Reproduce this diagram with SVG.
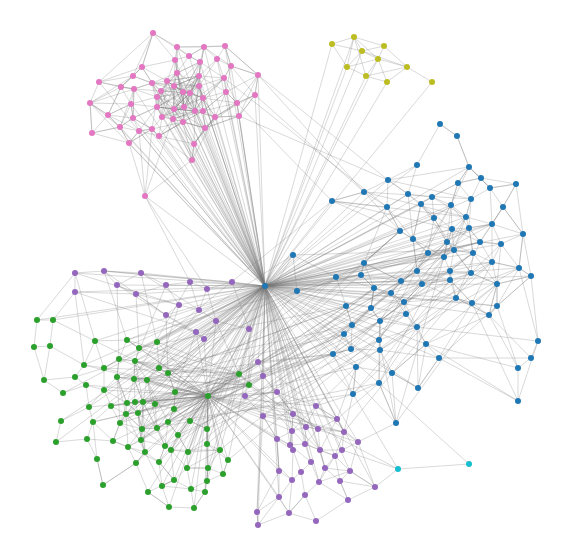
<svg xmlns="http://www.w3.org/2000/svg" width="572" height="558" viewBox="0 0 572 558">
<style>
.e path{fill:none;stroke:#7a7a7a;stroke-opacity:.48;stroke-width:.6}
.p circle{fill:#e377c2}.y circle{fill:#bcbd22}.b circle{fill:#1f77b4}.g circle{fill:#2ca02c}.u circle{fill:#9467bd}.c circle{fill:#17becf}
</style>
<rect width="572" height="558" fill="#fff"/>
<g id="connectors" class="e">
<path d="M153 33L175 60L167 81L183 92L184 107L199 76L204 47L217 59L224 78L226 92L203 111L183 122L174 109L174 86L177 73L177 47L189 56L200 62L199 86L190 93L195 111L203 98L237 103L239 116L205 128L194 144L173 119L162 117L157 107L157 97L161 91L152 83L142 67L133 76L121 87L131 104L133 118L152 129L159 136L183 122L195 111L215 117L237 103L255 95L258 75L231 66L225 46L217 59L199 86L183 92L174 86L167 81L152 83L134 89L90 103L99 82L121 87L134 89L157 97L174 109L173 119L183 122L194 144L192 160"/>
<path d="M177 47L177 73L183 92L203 98L224 78L231 66L226 92L215 117L205 128L203 111L190 93L174 109L157 107L162 117L152 129L139 131L129 143L120 127L108 115L90 103L92 133L120 127L133 118L139 131L159 136L173 119L184 107L199 86L199 76L200 62L189 56L175 60L177 73L161 91L157 97L131 104L108 115L121 87L133 76L152 83L174 86L190 93L184 107L203 98L226 92L237 103L203 111L195 111L174 109L162 117L159 136L194 144L215 117L239 116L255 95L237 103L224 78L199 76L167 81L142 67L153 33L177 47L204 47L225 46"/>
<path d="M153 33L142 67L152 83L161 91L157 107L174 109L190 93L199 76L217 59L231 66L258 75L255 95L239 116L215 117L203 111L184 107L183 92L167 81L177 73L200 62L204 47L189 56L177 73L174 86L174 109L183 122L159 136L152 129L133 118L131 104L134 89L161 91L162 117L173 119L195 111L205 128L183 122L184 107L174 86L199 76L199 86L203 98L215 117L194 144L195 111L190 93L161 91L157 97L152 129L129 143L139 131L157 107L183 92L200 62L224 78L203 98L203 111L226 92L258 75"/>
<path d="M174 86L183 92L190 93L174 109L184 107L183 92L167 81L161 91L190 93L203 98L199 86L195 111L183 92L157 107L167 81L199 76L184 107L162 117L174 86L199 86L190 93L173 119L183 92L157 97L184 107L203 111L199 86L161 91L174 109L195 111L162 117L190 93L200 62L174 86L157 97L152 83L183 92L177 73L184 107L224 78L195 111L199 76L174 109L203 98L174 86L175 60L184 107L183 122L167 81L162 117L199 76L161 91L195 111L173 119L152 83L157 107L199 86"/>
<path d="M99 82L142 67L121 87L90 103L108 115L92 133L90 103L133 76L99 82L134 89L120 127L129 143L145 196L139 131L108 115L131 104L120 127L92 133L129 143L152 129L145 196L192 160L194 144L205 128L239 116L258 75L225 46L231 66L255 95L215 117L192 160L159 136L183 122L192 160L173 119L145 196"/>
<path d="M153 33L189 56L204 47L231 66L224 78L199 86L152 83L133 76L142 67L175 60L177 47L225 46L258 75L237 103L226 92L199 76L174 86L157 107L133 118L134 89L121 87L108 115L133 118L120 127L139 131L152 129L183 122L205 128L237 103L215 117L195 111L157 107L131 104L90 103L120 127M153 33L99 82M153 33L133 76"/>
<path d="M204 47L199 76L190 93L183 122L203 111L205 128L174 109L183 92L200 62L177 73L152 83L134 89L133 118L157 107L195 111L203 98L190 93L157 97L162 117L184 107L177 73L161 91L173 119L205 128L215 117L203 98L199 76L183 92L195 111L199 86L167 81L174 86L173 119L203 111L199 86L177 73"/>
<path d="M265 286L177 47M265 286L204 47M265 286L225 46M265 286L189 56M265 286L175 60M265 286L200 62M265 286L217 59M265 286L231 66M265 286L258 75M265 286L177 73M265 286L199 76M265 286L224 78M265 286L152 83M265 286L167 81M265 286L199 86M265 286L134 89M265 286L174 86M265 286L161 91M265 286L183 92M265 286L190 93M265 286L226 92M265 286L255 95M265 286L157 97M265 286L203 98M265 286L131 104M265 286L237 103M265 286L157 107M265 286L174 109M265 286L184 107M265 286L195 111M265 286L203 111M265 286L239 116M265 286L133 118M265 286L162 117M265 286L173 119M265 286L183 122M265 286L215 117M265 286L120 127M265 286L152 129M265 286L139 131M265 286L205 128M265 286L159 136M265 286L129 143M265 286L194 144M265 286L192 160M265 286L145 196M265 286L90 103M265 286L108 115M265 286L99 82"/>
<path d="M258 75L364 192M255 95L364 192M239 116L388 180M237 103L332 201M258 75L388 180M224 78L387 207M145 196L207 289M145 196L190 282"/>
<path d="M332 44L354 37L384 46L378 59L362 51L354 37L378 59L407 67L432 82M332 44L362 51L347 67L366 76L387 82L407 67L384 46L362 51L407 67L366 76L378 59L347 67L354 37M332 44L347 67M378 59L387 82M354 37L366 76"/>
<path d="M265 286L332 44M265 286L347 67M265 286L366 76M265 286L387 82M265 286L432 82M265 286L362 51M265 286L354 37M265 286L378 59"/>
<path d="M440 124L457 136L469 167L481 178L490 188L516 184L503 207L523 234L519 268L531 276L497 284L497 306L489 315L472 303L456 298L450 280L450 271L454 250L447 242L452 229L466 217L471 199L458 183L469 167L457 136L440 124L417 165L388 180L364 192L332 201L387 207L400 231L413 239L428 253L417 271L401 281L391 293L404 302L406 314L417 327L426 344L439 358L418 388L392 373L380 350L380 321L371 308L374 288L361 275L364 263L336 277L293 255L297 291L346 306L352 325L344 334L351 349L333 354L356 367L353 394L379 383L379 340L380 321L406 314"/>
<path d="M417 165L408 194L421 204L434 218L447 242L444 257L428 253L413 239L400 231L387 207L408 194L432 197L451 205L452 229L469 228L480 242L501 244L492 262L471 273L473 253L454 250L444 257L422 284L404 302L391 293L374 288L371 308L352 325L346 306L336 277L361 275L401 281L422 284L456 298L472 303L492 262L519 268L531 276L497 284L471 273L450 271L450 280L422 284L417 271L444 257L447 242L451 205L458 183L481 178L471 199L469 228L492 224L503 207L490 188L471 199L466 217L454 250L473 253L469 228"/>
<path d="M388 180L408 194L413 239L417 271L428 253L434 218L432 197L421 204L447 242L454 250L480 242L492 224L523 234L501 244L519 268L492 262L473 253L450 271L456 298L489 315L497 306L497 284L492 262L492 224L466 217L451 205L469 167L490 188L492 224L501 244L471 273L450 280L404 302L417 327L380 321L380 350L379 383L396 423L392 373L426 344L406 314L391 293L401 281L364 263L400 231L332 201L364 192L387 207L413 239L421 204L452 229L480 242L503 207L516 184L481 178L458 183L432 197"/>
<path d="M364 192L400 231L364 263L401 281L417 271L447 242L473 253L497 284L489 315L456 298L471 273L454 250L434 218L408 194L388 180L387 207L364 263L374 288L371 308L380 321L404 302L422 284L450 280L472 303L497 306L531 276L523 234L516 184L490 188L469 167L458 183L451 205L421 204L413 239L444 257L450 271L492 262L480 242L469 228L466 217L432 197"/>
<path d="M538 341L531 358L518 368L518 401L538 341L531 276L497 306L518 368L489 315L531 358M518 401L472 303M538 341L519 268M538 341L417 327M531 358L439 358M518 368L426 344M518 401L426 344M518 401L439 358"/>
<path d="M336 277L374 288L391 293L422 284L450 271L473 253L469 228L451 205L434 218L400 231L364 263L361 275L374 288L404 302L456 298L480 242L501 244L497 284L472 303L450 280L417 271L413 239L452 229L454 250L471 273L497 284L489 315L426 344L418 388L417 327L379 340L352 325L351 349L380 350L439 358L497 306L519 268L523 234L503 207L492 224L469 228L447 242L428 253L401 281L371 308L344 334L333 354L353 394L356 367L392 373L418 388L439 358L472 303"/>
<path d="M293 255L454 250L297 291L480 242L336 277L492 224L346 306L450 271L333 354L473 253L344 334L447 242L352 325L471 273L351 349L469 228L356 367L492 262L353 394L450 280L379 383L466 217L379 340L451 205L380 321L519 268L380 350L456 298L392 373L497 284L396 423L452 229L332 201L466 217L364 192L471 199L388 180L469 167"/>
<path d="M265 286L293 255M265 286L297 291M265 286L336 277M265 286L361 275M265 286L364 263M265 286L332 201M265 286L364 192M265 286L387 207M265 286L400 231M265 286L413 239M265 286L428 253M265 286L417 271M265 286L401 281M265 286L422 284M265 286L391 293M265 286L404 302M265 286L374 288M265 286L346 306M265 286L371 308M265 286L352 325M265 286L344 334M265 286L351 349M265 286L333 354M265 286L356 367M265 286L353 394M265 286L447 242M265 286L454 250M265 286L444 257M265 286L450 271M265 286L450 280M265 286L456 298M265 286L471 273M265 286L473 253M265 286L469 228M265 286L480 242M265 286L501 244M265 286L492 262M265 286L519 268M265 286L531 276M265 286L497 284M265 286L452 229M265 286L434 218M265 286L421 204M265 286L432 197M265 286L408 194M265 286L388 180M265 286L417 165M265 286L380 321M265 286L379 340M265 286L380 350M265 286L379 383M265 286L417 327M265 286L406 314M265 286L426 344M265 286L439 358M265 286L418 388M265 286L392 373M265 286L492 224M265 286L523 234M265 286L466 217M265 286L451 205M265 286L471 199M265 286L472 303M265 286L497 306M265 286L489 315M265 286L396 423M265 286L469 167M265 286L458 183"/>
<path d="M37 320L53 320L50 346L34 347L37 320M53 320L95 341L127 340L139 348L157 342L159 368L168 373L175 392L174 409L168 422L178 435L188 452L220 450L228 460L223 474L208 468L207 481L205 492L194 508L191 489L187 468L174 480L162 486L169 507L148 492L136 463L145 452L141 440L142 429L138 413L135 402L134 379L135 361L119 359L104 368L84 365L75 377L86 385L104 390L111 406L126 414L120 423L113 441L128 447L145 452L159 462L165 446L157 428L155 404L147 380L159 368L135 361L139 348L127 340L119 359L117 377L127 403L126 414L142 429L157 428L171 450L188 452L187 468L208 468L207 444L207 429L190 421L174 409L175 392L168 373L135 361L134 379L143 402L155 404L174 409L168 422L165 446L171 450L174 480L191 489L205 492"/>
<path d="M34 347L44 380L75 377L104 368L119 359L117 377L134 379L147 380L175 392L208 396L190 421L207 429L207 444L220 450L208 468L207 481L223 474L228 460L207 444L188 452L178 435L168 422L157 428L142 429L120 423L111 406L127 403L135 402L143 402L138 413L126 414L93 422L87 439L56 442L61 421L89 407L86 385L63 393L44 380L50 346L84 365L95 341L104 368L104 390L127 403L138 413L142 429L145 452L136 463L103 485L97 459L87 439L113 441L128 447L141 440L165 446L159 462L174 480L148 492L169 507L194 508L205 492L208 468L187 468L171 450L178 435L190 421L208 396L249 385L239 374L208 396L175 392L155 404L138 413L141 440L145 452L162 486L191 489L207 481"/>
<path d="M135 402L126 414L143 402L134 379L127 403L120 423L138 413L157 428L143 402L142 429L126 414L128 447L142 429L155 404L135 402L120 423L141 440L157 428L147 380L143 402L141 440L138 413L127 403L117 377L104 390L89 407L93 422L111 406L135 402L175 392L143 402L165 446L142 429L168 422L147 380L135 361L143 402L145 452L126 414L117 377L120 423L113 441L93 422L97 459L103 485L136 463L128 447L159 462L162 486L174 480L159 462L171 450L220 450L187 468"/>
<path d="M208 396L127 340M208 396L157 342M208 396L139 348M208 396L135 361M208 396L159 368M208 396L168 373M208 396L134 379M208 396L147 380M208 396L239 374M208 396L127 403M208 396L135 402M208 396L143 402M208 396L155 404M208 396L174 409M208 396L126 414M208 396L138 413M208 396L168 422M208 396L142 429M208 396L157 428M208 396L178 435M208 396L207 429M208 396L141 440M208 396L165 446M208 396L171 450M208 396L188 452M208 396L207 444M208 396L145 452M208 396L220 450M208 396L228 460M208 396L187 468M208 396L208 468M208 396L223 474M208 396L174 480M208 396L207 481M208 396L191 489M208 396L205 492M208 396L194 508M208 396L119 359M208 396L104 368M208 396L117 377M208 396L104 390M208 396L111 406M208 396L120 423M208 396L113 441M208 396L128 447M208 396L136 463M208 396L159 462M208 396L162 486M208 396L148 492M208 396L169 507M208 396L84 365M208 396L95 341M208 396L86 385M208 396L89 407M208 396L93 422"/>
<path d="M239 374L127 340M239 374L157 342M239 374L119 359M239 374L159 368M239 374L134 379M239 374L135 402M239 374L138 413M239 374L142 429M239 374L104 368M239 374L175 392M239 374L174 409M249 385L139 348M249 385L135 361M249 385L147 380M249 385L143 402M249 385L126 414M249 385L157 428M249 385L141 440M249 385L117 377M249 385L127 403M249 385L168 422"/>
<path d="M265 286L37 320M265 286L53 320M265 286L95 341M265 286L127 340M265 286L157 342M265 286L139 348M265 286L84 365M265 286L119 359M265 286L135 361M265 286L159 368M265 286L168 373M265 286L117 377M265 286L134 379M265 286L147 380M265 286L63 393M265 286L175 392M265 286L239 374M265 286L249 385M265 286L208 396M265 286L127 403M265 286L135 402M265 286L143 402M265 286L155 404M265 286L89 407M265 286L174 409M265 286L126 414M265 286L138 413M265 286L61 421M265 286L168 422M265 286L190 421M265 286L142 429M265 286L157 428M265 286L178 435M265 286L207 429M265 286L56 442M265 286L141 440M265 286L165 446M265 286L171 450M265 286L188 452M265 286L207 444M265 286L220 450M265 286L228 460M265 286L187 468M265 286L208 468M265 286L207 481M265 286L104 368M265 286L104 390M265 286L111 406M265 286L120 423"/>
<path d="M208 396L293 255M208 396L336 277M208 396L297 291M208 396L346 306M208 396L361 275M208 396L344 334M208 396L333 354M239 374L364 263M249 385L374 288M175 392L293 255M159 368L336 277M168 373L297 291M157 342L332 201M147 380L346 306M155 404L352 325M174 409L344 334M190 421L401 281M207 429L391 293M239 374L371 308M249 385L380 321"/>
<path d="M175 392L336 277M168 373L346 306M159 368L352 325M147 380L344 334M134 379L333 354M135 361L297 291M157 342L293 255M127 340L336 277M139 348L346 306M143 402L351 349M155 404L333 354M174 409L356 367M168 422L353 394M157 428L379 383M178 435L379 340M207 429L380 350M165 446L380 321M171 450L374 288M188 452L371 308M207 444L391 293M220 450L404 302M228 460L406 314M239 374L401 281M249 385L422 284M208 396L417 271M208 396L428 253M208 396L400 231"/>
<path d="M75 273L75 292M75 273L104 271L141 273L166 285L190 282L207 289L232 282M104 271L117 285L136 294L179 305L199 310L216 321L249 329M141 273L117 285M166 285L179 305L166 315L196 332L204 339L216 321M136 294L166 315M190 282L199 310L207 289M75 292L136 294M75 273L179 305M104 271L166 315M141 273L199 310M117 285L204 339M75 292L196 332M207 289L216 321M232 282L249 329M166 285L136 294M104 271L232 282"/>
<path d="M75 273L95 341M104 271L127 340M141 273L157 342M75 292L84 365M117 285L119 359M136 294L139 348M166 315L168 373M196 332L175 392M204 339L208 396M179 305L159 368M166 285L135 361M199 310L147 380M216 321L239 374M249 329L249 385M190 282L134 379M75 273L37 320M75 292L53 320"/>
<path d="M265 286L75 273M265 286L104 271M265 286L141 273M265 286L75 292M265 286L117 285M265 286L166 285M265 286L190 282M265 286L232 282M265 286L207 289M265 286L136 294M265 286L179 305M265 286L199 310M265 286L166 315M265 286L216 321M265 286L249 329M265 286L196 332M265 286L204 339"/>
<path d="M258 362L263 376L277 392L316 406L337 419L344 432L358 442L350 471L375 487L348 500L340 481L335 456L320 450L318 429L306 427L292 431L293 414L277 392L245 396L263 416L277 439L279 471L279 497L257 512L258 525L289 513L316 521L305 495L319 482L325 468L335 456L342 450L344 432L318 429L337 419L316 406L306 427L305 444L311 462L301 472L292 480L279 497L289 513L305 495L301 472L293 450L290 445L277 439L292 431L290 445L305 444L320 450L325 468L350 471L340 481L348 500L316 521"/>
<path d="M263 416L293 414L306 427L320 450L342 450L358 442M245 396L277 392L293 414L292 431L293 450L292 480L279 471L277 439L263 416L257 512M263 376L293 414L318 429L305 444L335 456L350 471L319 482L311 462L290 445L292 431L316 406L358 442L375 487L340 481L325 468L320 450L337 419L344 432L335 456L319 482L348 500M258 362L316 406M245 396L337 419M263 416L344 432M277 392L318 429M279 471L257 512L258 525L279 497M292 480L289 513L305 495M375 487L350 471"/>
<path d="M265 286L258 362M265 286L263 376M265 286L245 396M265 286L263 416M265 286L277 392M265 286L316 406M265 286L293 414M265 286L337 419M265 286L292 431M265 286L306 427M265 286L318 429M265 286L344 432M265 286L277 439M265 286L290 445M265 286L305 444M265 286L293 450M265 286L320 450M265 286L342 450M265 286L358 442M265 286L335 456M265 286L311 462M265 286L325 468M265 286L279 471M265 286L350 471M265 286L319 482M265 286L375 487M265 286L279 497M265 286L257 512M265 286L258 525"/>
<path d="M208 396L216 321M208 396L249 329M208 396L196 332M208 396L258 362M208 396L263 376M208 396L245 396M208 396L263 416M208 396L277 392M208 396L316 406M208 396L293 414M208 396L292 431M208 396L277 439M208 396L290 445M208 396L293 450M208 396L279 471M208 396L292 480M208 396L279 497M208 396L289 513M208 396L337 419M208 396L344 432M208 396L358 442M239 374L306 427M249 385L318 429M239 374L320 450M249 385L305 444"/>
<path d="M316 406L353 394M337 419L379 383M344 432L392 373M358 442L396 423M337 419L356 367M344 432L353 394M258 362L333 354M263 376L351 349M277 392L333 354M316 406L356 367M263 416L379 340"/>
<path d="M398 469L469 464M398 469L353 394M398 469L342 450M398 469L293 414M469 464L379 383M398 469L375 487M396 423L379 383M396 423L379 340"/>
</g>
<g id="nodes">
<g id="p0" class="p"><circle cx="153" cy="33" r="3"/></g>
<g id="p1" class="p"><circle cx="177" cy="47" r="3"/></g>
<g id="p2" class="p"><circle cx="204" cy="47" r="3"/></g>
<g id="p3" class="p"><circle cx="225" cy="46" r="3"/></g>
<g id="p4" class="p"><circle cx="189" cy="56" r="3"/></g>
<g id="p5" class="p"><circle cx="175" cy="60" r="3"/></g>
<g id="p6" class="p"><circle cx="200" cy="62" r="3"/></g>
<g id="p7" class="p"><circle cx="217" cy="59" r="3"/></g>
<g id="p8" class="p"><circle cx="142" cy="67" r="3"/></g>
<g id="p9" class="p"><circle cx="231" cy="66" r="3"/></g>
<g id="p10" class="p"><circle cx="258" cy="75" r="3"/></g>
<g id="p11" class="p"><circle cx="177" cy="73" r="3"/></g>
<g id="p12" class="p"><circle cx="199" cy="76" r="3"/></g>
<g id="p13" class="p"><circle cx="224" cy="78" r="3"/></g>
<g id="p14" class="p"><circle cx="133" cy="76" r="3"/></g>
<g id="p15" class="p"><circle cx="99" cy="82" r="3"/></g>
<g id="p16" class="p"><circle cx="152" cy="83" r="3"/></g>
<g id="p17" class="p"><circle cx="167" cy="81" r="3"/></g>
<g id="p18" class="p"><circle cx="199" cy="86" r="3"/></g>
<g id="p19" class="p"><circle cx="121" cy="87" r="3"/></g>
<g id="p20" class="p"><circle cx="134" cy="89" r="3"/></g>
<g id="p21" class="p"><circle cx="174" cy="86" r="3"/></g>
<g id="p22" class="p"><circle cx="161" cy="91" r="3"/></g>
<g id="p23" class="p"><circle cx="183" cy="92" r="3"/></g>
<g id="p24" class="p"><circle cx="190" cy="93" r="3"/></g>
<g id="p25" class="p"><circle cx="226" cy="92" r="3"/></g>
<g id="p26" class="p"><circle cx="255" cy="95" r="3"/></g>
<g id="p27" class="p"><circle cx="157" cy="97" r="3"/></g>
<g id="p28" class="p"><circle cx="203" cy="98" r="3"/></g>
<g id="p29" class="p"><circle cx="90" cy="103" r="3"/></g>
<g id="p30" class="p"><circle cx="131" cy="104" r="3"/></g>
<g id="p31" class="p"><circle cx="237" cy="103" r="3"/></g>
<g id="p32" class="p"><circle cx="157" cy="107" r="3"/></g>
<g id="p33" class="p"><circle cx="174" cy="109" r="3"/></g>
<g id="p34" class="p"><circle cx="184" cy="107" r="3"/></g>
<g id="p35" class="p"><circle cx="195" cy="111" r="3"/></g>
<g id="p36" class="p"><circle cx="203" cy="111" r="3"/></g>
<g id="p37" class="p"><circle cx="108" cy="115" r="3"/></g>
<g id="p38" class="p"><circle cx="239" cy="116" r="3"/></g>
<g id="p39" class="p"><circle cx="133" cy="118" r="3"/></g>
<g id="p40" class="p"><circle cx="162" cy="117" r="3"/></g>
<g id="p41" class="p"><circle cx="173" cy="119" r="3"/></g>
<g id="p42" class="p"><circle cx="183" cy="122" r="3"/></g>
<g id="p43" class="p"><circle cx="215" cy="117" r="3"/></g>
<g id="p44" class="p"><circle cx="120" cy="127" r="3"/></g>
<g id="p45" class="p"><circle cx="152" cy="129" r="3"/></g>
<g id="p46" class="p"><circle cx="139" cy="131" r="3"/></g>
<g id="p47" class="p"><circle cx="205" cy="128" r="3"/></g>
<g id="p48" class="p"><circle cx="92" cy="133" r="3"/></g>
<g id="p49" class="p"><circle cx="159" cy="136" r="3"/></g>
<g id="p50" class="p"><circle cx="129" cy="143" r="3"/></g>
<g id="p51" class="p"><circle cx="194" cy="144" r="3"/></g>
<g id="p52" class="p"><circle cx="192" cy="160" r="3"/></g>
<g id="p53" class="p"><circle cx="145" cy="196" r="3"/></g>
<g id="y0" class="y"><circle cx="332" cy="44" r="3"/></g>
<g id="y1" class="y"><circle cx="354" cy="37" r="3"/></g>
<g id="y2" class="y"><circle cx="384" cy="46" r="3"/></g>
<g id="y3" class="y"><circle cx="362" cy="51" r="3"/></g>
<g id="y4" class="y"><circle cx="378" cy="59" r="3"/></g>
<g id="y5" class="y"><circle cx="347" cy="67" r="3"/></g>
<g id="y6" class="y"><circle cx="407" cy="67" r="3"/></g>
<g id="y7" class="y"><circle cx="366" cy="76" r="3"/></g>
<g id="y8" class="y"><circle cx="387" cy="82" r="3"/></g>
<g id="y9" class="y"><circle cx="432" cy="82" r="3"/></g>
<g id="hub" class="b"><circle cx="265" cy="286" r="3"/></g>
<g id="b0" class="b"><circle cx="440" cy="124" r="3"/></g>
<g id="b1" class="b"><circle cx="457" cy="136" r="3"/></g>
<g id="b2" class="b"><circle cx="417" cy="165" r="3"/></g>
<g id="b3" class="b"><circle cx="469" cy="167" r="3"/></g>
<g id="b4" class="b"><circle cx="481" cy="178" r="3"/></g>
<g id="b5" class="b"><circle cx="388" cy="180" r="3"/></g>
<g id="b6" class="b"><circle cx="458" cy="183" r="3"/></g>
<g id="b7" class="b"><circle cx="516" cy="184" r="3"/></g>
<g id="b8" class="b"><circle cx="490" cy="188" r="3"/></g>
<g id="b9" class="b"><circle cx="364" cy="192" r="3"/></g>
<g id="b10" class="b"><circle cx="408" cy="194" r="3"/></g>
<g id="b11" class="b"><circle cx="432" cy="197" r="3"/></g>
<g id="b12" class="b"><circle cx="332" cy="201" r="3"/></g>
<g id="b13" class="b"><circle cx="471" cy="199" r="3"/></g>
<g id="b14" class="b"><circle cx="421" cy="204" r="3"/></g>
<g id="b15" class="b"><circle cx="451" cy="205" r="3"/></g>
<g id="b16" class="b"><circle cx="387" cy="207" r="3"/></g>
<g id="b17" class="b"><circle cx="503" cy="207" r="3"/></g>
<g id="b18" class="b"><circle cx="466" cy="217" r="3"/></g>
<g id="b19" class="b"><circle cx="434" cy="218" r="3"/></g>
<g id="b20" class="b"><circle cx="492" cy="224" r="3"/></g>
<g id="b21" class="b"><circle cx="452" cy="229" r="3"/></g>
<g id="b22" class="b"><circle cx="469" cy="228" r="3"/></g>
<g id="b23" class="b"><circle cx="400" cy="231" r="3"/></g>
<g id="b24" class="b"><circle cx="523" cy="234" r="3"/></g>
<g id="b25" class="b"><circle cx="413" cy="239" r="3"/></g>
<g id="b26" class="b"><circle cx="447" cy="242" r="3"/></g>
<g id="b27" class="b"><circle cx="480" cy="242" r="3"/></g>
<g id="b28" class="b"><circle cx="501" cy="244" r="3"/></g>
<g id="b29" class="b"><circle cx="454" cy="250" r="3"/></g>
<g id="b30" class="b"><circle cx="428" cy="253" r="3"/></g>
<g id="b31" class="b"><circle cx="473" cy="253" r="3"/></g>
<g id="b32" class="b"><circle cx="444" cy="257" r="3"/></g>
<g id="b33" class="b"><circle cx="293" cy="255" r="3"/></g>
<g id="b34" class="b"><circle cx="492" cy="262" r="3"/></g>
<g id="b35" class="b"><circle cx="364" cy="263" r="3"/></g>
<g id="b36" class="b"><circle cx="519" cy="268" r="3"/></g>
<g id="b37" class="b"><circle cx="417" cy="271" r="3"/></g>
<g id="b38" class="b"><circle cx="450" cy="271" r="3"/></g>
<g id="b39" class="b"><circle cx="361" cy="275" r="3"/></g>
<g id="b40" class="b"><circle cx="471" cy="273" r="3"/></g>
<g id="b41" class="b"><circle cx="531" cy="276" r="3"/></g>
<g id="b42" class="b"><circle cx="336" cy="277" r="3"/></g>
<g id="b43" class="b"><circle cx="450" cy="280" r="3"/></g>
<g id="b44" class="b"><circle cx="401" cy="281" r="3"/></g>
<g id="b45" class="b"><circle cx="422" cy="284" r="3"/></g>
<g id="b46" class="b"><circle cx="497" cy="284" r="3"/></g>
<g id="b47" class="b"><circle cx="374" cy="288" r="3"/></g>
<g id="b48" class="b"><circle cx="297" cy="291" r="3"/></g>
<g id="b49" class="b"><circle cx="391" cy="293" r="3"/></g>
<g id="b50" class="b"><circle cx="456" cy="298" r="3"/></g>
<g id="b51" class="b"><circle cx="472" cy="303" r="3"/></g>
<g id="b52" class="b"><circle cx="497" cy="306" r="3"/></g>
<g id="b53" class="b"><circle cx="404" cy="302" r="3"/></g>
<g id="b54" class="b"><circle cx="346" cy="306" r="3"/></g>
<g id="b55" class="b"><circle cx="371" cy="308" r="3"/></g>
<g id="b56" class="b"><circle cx="406" cy="314" r="3"/></g>
<g id="b57" class="b"><circle cx="489" cy="315" r="3"/></g>
<g id="b58" class="b"><circle cx="352" cy="325" r="3"/></g>
<g id="b59" class="b"><circle cx="380" cy="321" r="3"/></g>
<g id="b60" class="b"><circle cx="417" cy="327" r="3"/></g>
<g id="b61" class="b"><circle cx="344" cy="334" r="3"/></g>
<g id="b62" class="b"><circle cx="379" cy="340" r="3"/></g>
<g id="b63" class="b"><circle cx="351" cy="349" r="3"/></g>
<g id="b64" class="b"><circle cx="380" cy="350" r="3"/></g>
<g id="b65" class="b"><circle cx="426" cy="344" r="3"/></g>
<g id="b66" class="b"><circle cx="333" cy="354" r="3"/></g>
<g id="b67" class="b"><circle cx="439" cy="358" r="3"/></g>
<g id="b68" class="b"><circle cx="356" cy="367" r="3"/></g>
<g id="b69" class="b"><circle cx="392" cy="373" r="3"/></g>
<g id="b70" class="b"><circle cx="379" cy="383" r="3"/></g>
<g id="b71" class="b"><circle cx="418" cy="388" r="3"/></g>
<g id="b72" class="b"><circle cx="353" cy="394" r="3"/></g>
<g id="b73" class="b"><circle cx="396" cy="423" r="3"/></g>
<g id="b74" class="b"><circle cx="538" cy="341" r="3"/></g>
<g id="b75" class="b"><circle cx="531" cy="358" r="3"/></g>
<g id="b76" class="b"><circle cx="518" cy="368" r="3"/></g>
<g id="b77" class="b"><circle cx="518" cy="401" r="3"/></g>
<g id="c0" class="c"><circle cx="398" cy="469" r="3"/></g>
<g id="c1" class="c"><circle cx="469" cy="464" r="3"/></g>
<g id="u0" class="u"><circle cx="75" cy="273" r="3"/></g>
<g id="u1" class="u"><circle cx="104" cy="271" r="3"/></g>
<g id="u2" class="u"><circle cx="141" cy="273" r="3"/></g>
<g id="u3" class="u"><circle cx="75" cy="292" r="3"/></g>
<g id="u4" class="u"><circle cx="117" cy="285" r="3"/></g>
<g id="u5" class="u"><circle cx="166" cy="285" r="3"/></g>
<g id="u6" class="u"><circle cx="190" cy="282" r="3"/></g>
<g id="u7" class="u"><circle cx="232" cy="282" r="3"/></g>
<g id="u8" class="u"><circle cx="207" cy="289" r="3"/></g>
<g id="u9" class="u"><circle cx="136" cy="294" r="3"/></g>
<g id="u10" class="u"><circle cx="179" cy="305" r="3"/></g>
<g id="u11" class="u"><circle cx="199" cy="310" r="3"/></g>
<g id="u12" class="u"><circle cx="166" cy="315" r="3"/></g>
<g id="u13" class="u"><circle cx="216" cy="321" r="3"/></g>
<g id="u14" class="u"><circle cx="249" cy="329" r="3"/></g>
<g id="u15" class="u"><circle cx="196" cy="332" r="3"/></g>
<g id="u16" class="u"><circle cx="204" cy="339" r="3"/></g>
<g id="u17" class="u"><circle cx="258" cy="362" r="3"/></g>
<g id="u18" class="u"><circle cx="263" cy="376" r="3"/></g>
<g id="u19" class="u"><circle cx="245" cy="396" r="3"/></g>
<g id="u20" class="u"><circle cx="263" cy="416" r="3"/></g>
<g id="u21" class="u"><circle cx="277" cy="392" r="3"/></g>
<g id="u22" class="u"><circle cx="316" cy="406" r="3"/></g>
<g id="u23" class="u"><circle cx="293" cy="414" r="3"/></g>
<g id="u24" class="u"><circle cx="337" cy="419" r="3"/></g>
<g id="u25" class="u"><circle cx="292" cy="431" r="3"/></g>
<g id="u26" class="u"><circle cx="306" cy="427" r="3"/></g>
<g id="u27" class="u"><circle cx="318" cy="429" r="3"/></g>
<g id="u28" class="u"><circle cx="344" cy="432" r="3"/></g>
<g id="u29" class="u"><circle cx="277" cy="439" r="3"/></g>
<g id="u30" class="u"><circle cx="290" cy="445" r="3"/></g>
<g id="u31" class="u"><circle cx="305" cy="444" r="3"/></g>
<g id="u32" class="u"><circle cx="293" cy="450" r="3"/></g>
<g id="u33" class="u"><circle cx="320" cy="450" r="3"/></g>
<g id="u34" class="u"><circle cx="342" cy="450" r="3"/></g>
<g id="u35" class="u"><circle cx="358" cy="442" r="3"/></g>
<g id="u36" class="u"><circle cx="335" cy="456" r="3"/></g>
<g id="u37" class="u"><circle cx="311" cy="462" r="3"/></g>
<g id="u38" class="u"><circle cx="325" cy="468" r="3"/></g>
<g id="u39" class="u"><circle cx="279" cy="471" r="3"/></g>
<g id="u40" class="u"><circle cx="301" cy="472" r="3"/></g>
<g id="u41" class="u"><circle cx="350" cy="471" r="3"/></g>
<g id="u42" class="u"><circle cx="292" cy="480" r="3"/></g>
<g id="u43" class="u"><circle cx="319" cy="482" r="3"/></g>
<g id="u44" class="u"><circle cx="340" cy="481" r="3"/></g>
<g id="u45" class="u"><circle cx="375" cy="487" r="3"/></g>
<g id="u46" class="u"><circle cx="279" cy="497" r="3"/></g>
<g id="u47" class="u"><circle cx="305" cy="495" r="3"/></g>
<g id="u48" class="u"><circle cx="348" cy="500" r="3"/></g>
<g id="u49" class="u"><circle cx="257" cy="512" r="3"/></g>
<g id="u50" class="u"><circle cx="289" cy="513" r="3"/></g>
<g id="u51" class="u"><circle cx="316" cy="521" r="3"/></g>
<g id="u52" class="u"><circle cx="258" cy="525" r="3"/></g>
<g id="g0" class="g"><circle cx="37" cy="320" r="3"/></g>
<g id="g1" class="g"><circle cx="53" cy="320" r="3"/></g>
<g id="g2" class="g"><circle cx="34" cy="347" r="3"/></g>
<g id="g3" class="g"><circle cx="50" cy="346" r="3"/></g>
<g id="g4" class="g"><circle cx="95" cy="341" r="3"/></g>
<g id="g5" class="g"><circle cx="127" cy="340" r="3"/></g>
<g id="g6" class="g"><circle cx="157" cy="342" r="3"/></g>
<g id="g7" class="g"><circle cx="139" cy="348" r="3"/></g>
<g id="g8" class="g"><circle cx="44" cy="380" r="3"/></g>
<g id="g9" class="g"><circle cx="84" cy="365" r="3"/></g>
<g id="g10" class="g"><circle cx="119" cy="359" r="3"/></g>
<g id="g11" class="g"><circle cx="135" cy="361" r="3"/></g>
<g id="g12" class="g"><circle cx="104" cy="368" r="3"/></g>
<g id="g13" class="g"><circle cx="159" cy="368" r="3"/></g>
<g id="g14" class="g"><circle cx="168" cy="373" r="3"/></g>
<g id="g15" class="g"><circle cx="75" cy="377" r="3"/></g>
<g id="g16" class="g"><circle cx="117" cy="377" r="3"/></g>
<g id="g17" class="g"><circle cx="134" cy="379" r="3"/></g>
<g id="g18" class="g"><circle cx="147" cy="380" r="3"/></g>
<g id="g19" class="g"><circle cx="86" cy="385" r="3"/></g>
<g id="g20" class="g"><circle cx="63" cy="393" r="3"/></g>
<g id="g21" class="g"><circle cx="104" cy="390" r="3"/></g>
<g id="g22" class="g"><circle cx="175" cy="392" r="3"/></g>
<g id="g23" class="g"><circle cx="239" cy="374" r="3"/></g>
<g id="g24" class="g"><circle cx="249" cy="385" r="3"/></g>
<g id="g25" class="g"><circle cx="208" cy="396" r="3"/></g>
<g id="g26" class="g"><circle cx="127" cy="403" r="3"/></g>
<g id="g27" class="g"><circle cx="135" cy="402" r="3"/></g>
<g id="g28" class="g"><circle cx="143" cy="402" r="3"/></g>
<g id="g29" class="g"><circle cx="155" cy="404" r="3"/></g>
<g id="g30" class="g"><circle cx="89" cy="407" r="3"/></g>
<g id="g31" class="g"><circle cx="111" cy="406" r="3"/></g>
<g id="g32" class="g"><circle cx="174" cy="409" r="3"/></g>
<g id="g33" class="g"><circle cx="126" cy="414" r="3"/></g>
<g id="g34" class="g"><circle cx="138" cy="413" r="3"/></g>
<g id="g35" class="g"><circle cx="61" cy="421" r="3"/></g>
<g id="g36" class="g"><circle cx="93" cy="422" r="3"/></g>
<g id="g37" class="g"><circle cx="120" cy="423" r="3"/></g>
<g id="g38" class="g"><circle cx="168" cy="422" r="3"/></g>
<g id="g39" class="g"><circle cx="190" cy="421" r="3"/></g>
<g id="g40" class="g"><circle cx="142" cy="429" r="3"/></g>
<g id="g41" class="g"><circle cx="157" cy="428" r="3"/></g>
<g id="g42" class="g"><circle cx="178" cy="435" r="3"/></g>
<g id="g43" class="g"><circle cx="207" cy="429" r="3"/></g>
<g id="g44" class="g"><circle cx="56" cy="442" r="3"/></g>
<g id="g45" class="g"><circle cx="87" cy="439" r="3"/></g>
<g id="g46" class="g"><circle cx="113" cy="441" r="3"/></g>
<g id="g47" class="g"><circle cx="141" cy="440" r="3"/></g>
<g id="g48" class="g"><circle cx="128" cy="447" r="3"/></g>
<g id="g49" class="g"><circle cx="165" cy="446" r="3"/></g>
<g id="g50" class="g"><circle cx="171" cy="450" r="3"/></g>
<g id="g51" class="g"><circle cx="188" cy="452" r="3"/></g>
<g id="g52" class="g"><circle cx="207" cy="444" r="3"/></g>
<g id="g53" class="g"><circle cx="145" cy="452" r="3"/></g>
<g id="g54" class="g"><circle cx="97" cy="459" r="3"/></g>
<g id="g55" class="g"><circle cx="220" cy="450" r="3"/></g>
<g id="g56" class="g"><circle cx="228" cy="460" r="3"/></g>
<g id="g57" class="g"><circle cx="136" cy="463" r="3"/></g>
<g id="g58" class="g"><circle cx="159" cy="462" r="3"/></g>
<g id="g59" class="g"><circle cx="187" cy="468" r="3"/></g>
<g id="g60" class="g"><circle cx="208" cy="468" r="3"/></g>
<g id="g61" class="g"><circle cx="223" cy="474" r="3"/></g>
<g id="g62" class="g"><circle cx="174" cy="480" r="3"/></g>
<g id="g63" class="g"><circle cx="207" cy="481" r="3"/></g>
<g id="g64" class="g"><circle cx="103" cy="485" r="3"/></g>
<g id="g65" class="g"><circle cx="162" cy="486" r="3"/></g>
<g id="g66" class="g"><circle cx="191" cy="489" r="3"/></g>
<g id="g67" class="g"><circle cx="205" cy="492" r="3"/></g>
<g id="g68" class="g"><circle cx="148" cy="492" r="3"/></g>
<g id="g69" class="g"><circle cx="169" cy="507" r="3"/></g>
<g id="g70" class="g"><circle cx="194" cy="508" r="3"/></g>
</g>
</svg>
